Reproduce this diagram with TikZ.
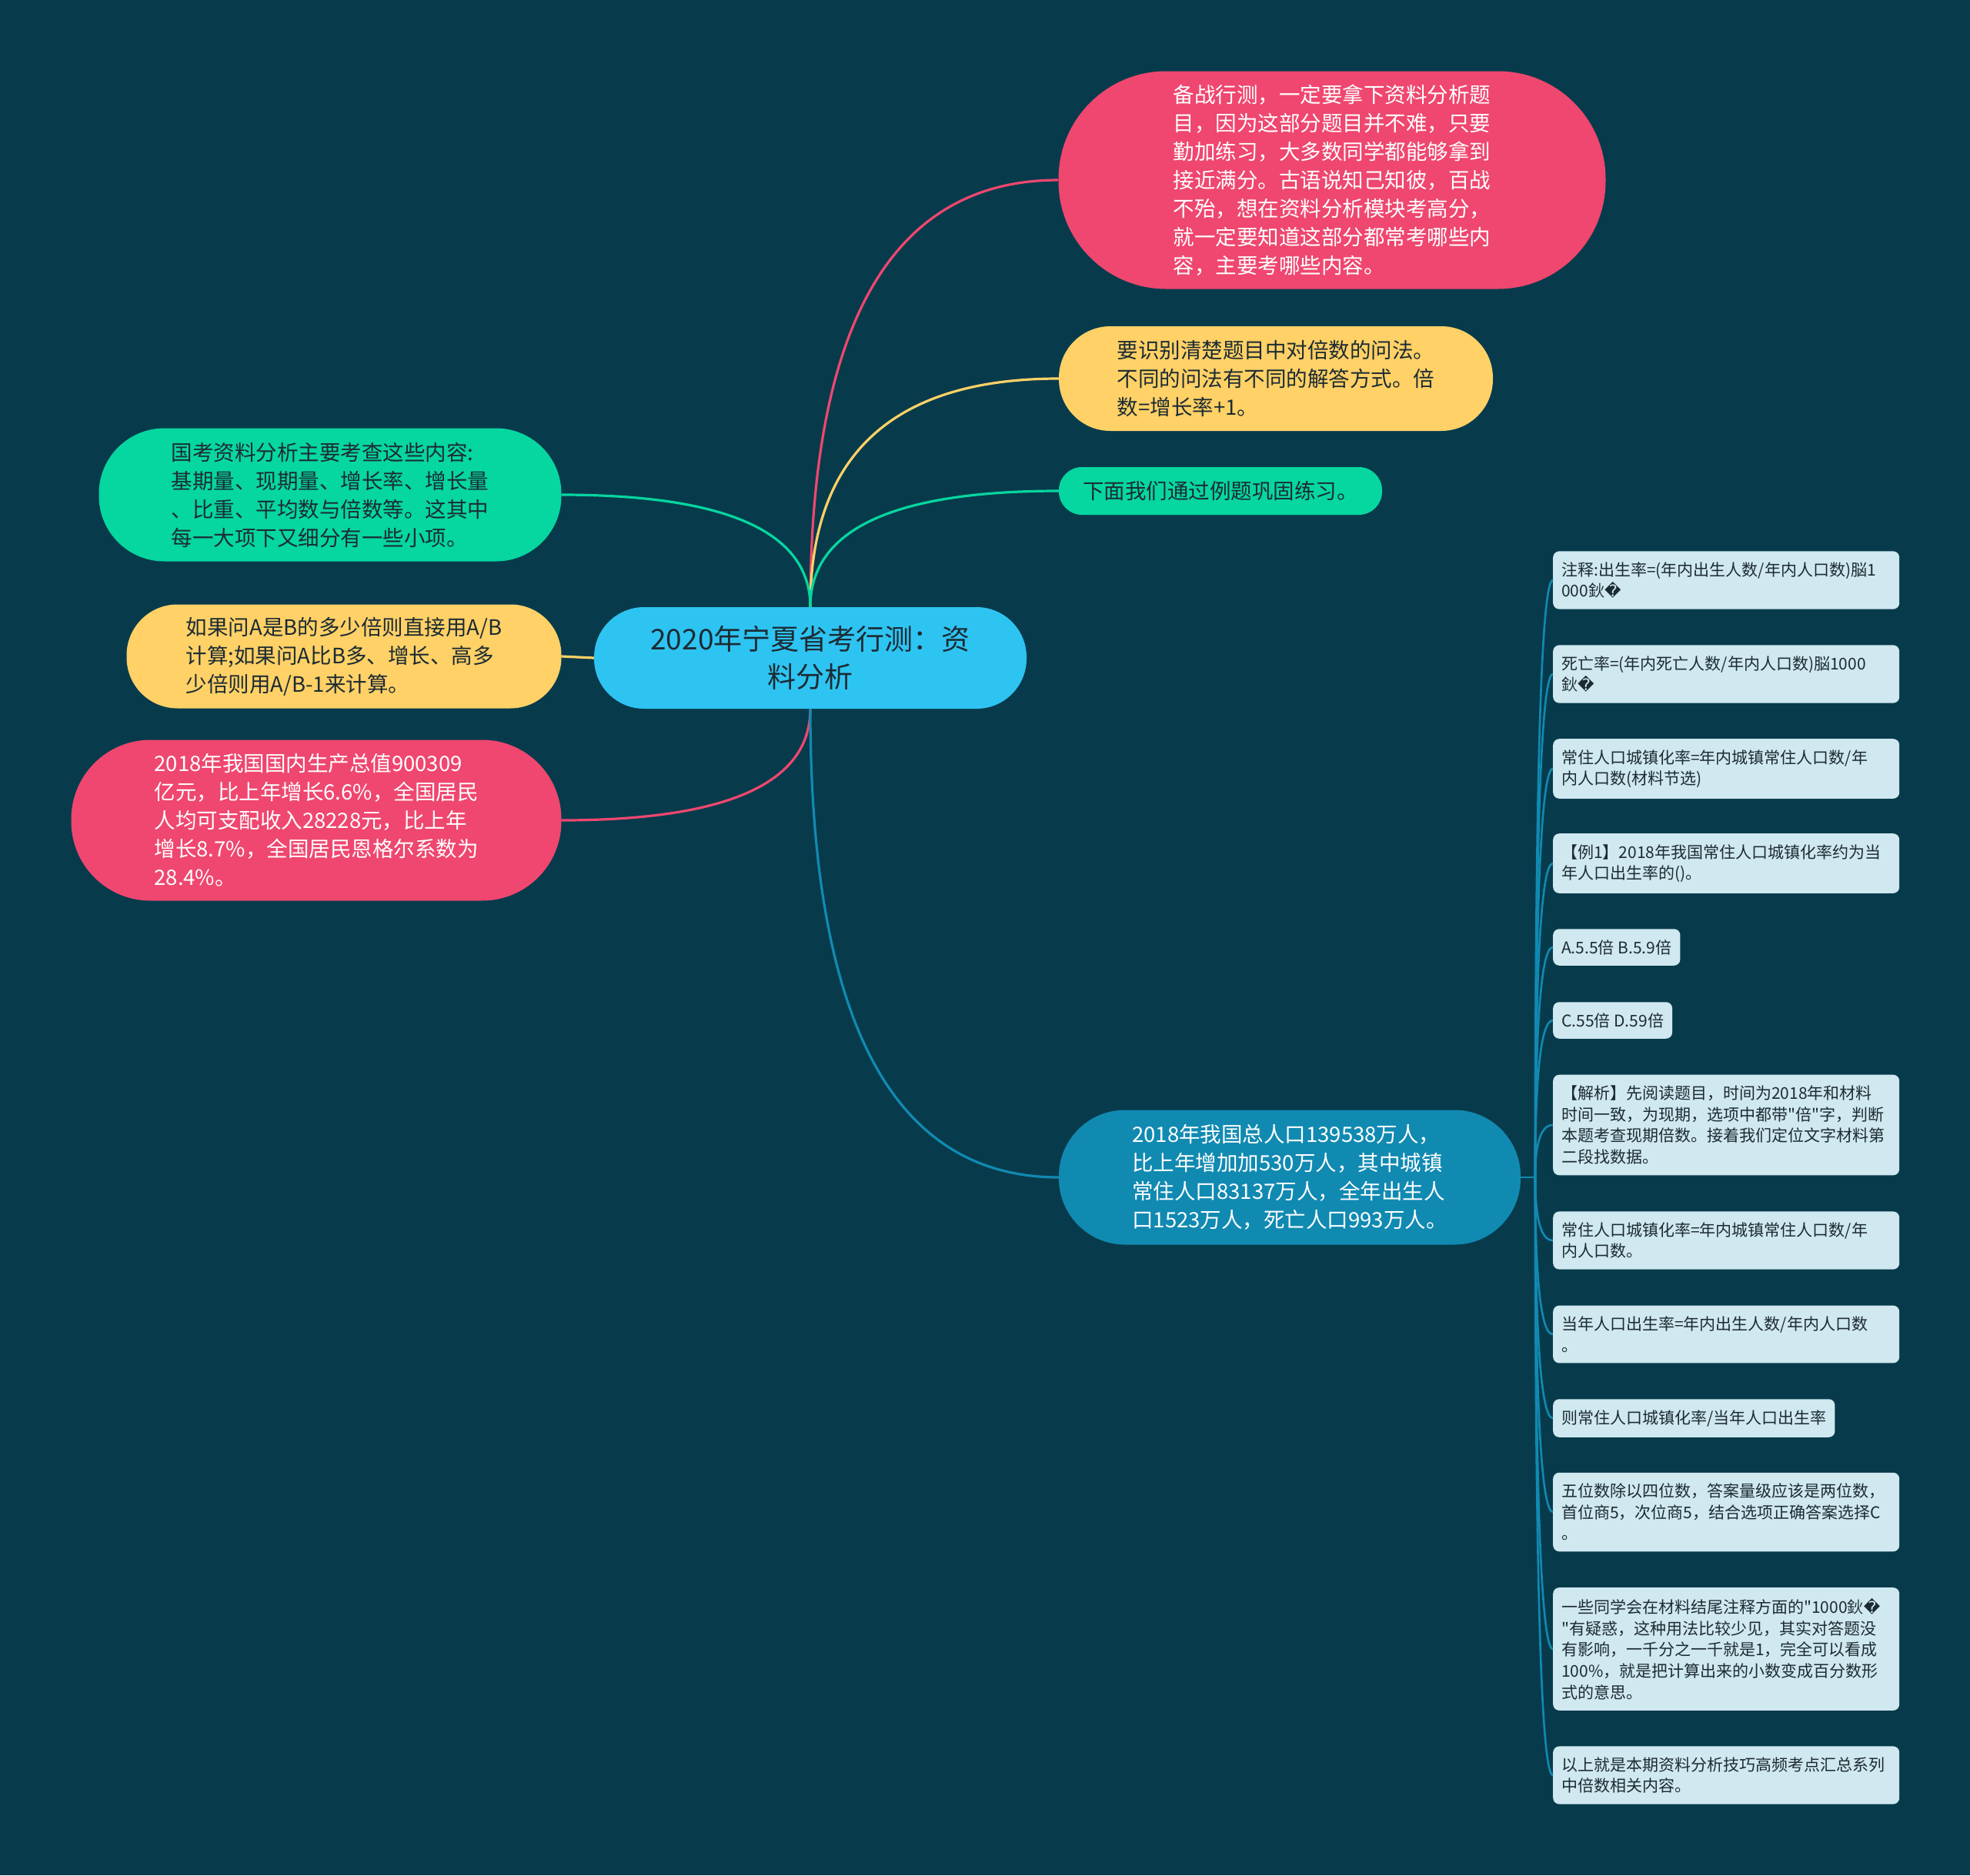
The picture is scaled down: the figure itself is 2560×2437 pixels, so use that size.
\documentclass[tikz,border=0pt]{standalone}
\usepackage{fontspec}
\setmainfont{Noto Sans CJK SC}[Ligatures=TeXOff]
\newfontfamily\repfont{DejaVu Sans}
\usetikzlibrary{calc}
\definecolor{bgc}{HTML}{073B4C}
\definecolor{rosec}{HTML}{EF476F}
\definecolor{sunc}{HTML}{FFD166}
\definecolor{mintc}{HTML}{06D6A0}
\definecolor{seac}{HTML}{118AB2}
\definecolor{skyc}{HTML}{2EC4F2}
\definecolor{leafc}{HTML}{D0E8F0}
\definecolor{inkc}{HTML}{1C2B33}

% curved mind-map branch: leaves #2 vertically, enters #3 horizontally
\newcommand{\curvelink}[3]{%
  \draw[#1] (#2) .. controls ($(#2)!0.667!(#2 |- #3)$) and ($(#3)!0.667!(#2 |- #3)$) .. (#3);}
\newcommand{\dq}{\char34\relax}

\begin{document}
\begin{tikzpicture}[x=1pt, y=-1pt,
  bubble/.style={rectangle, fill=#1, align=left, inner sep=0pt, font=\fontsize{27.5pt}{37pt}\selectfont},
  leaf/.style={rectangle, rounded corners=8pt, fill=leafc, text=inkc, anchor=west, align=left,
    inner xsep=11pt, inner ysep=14pt, font=\fontsize{21pt}{27.7pt}\selectfont},
  wide/.style={text width=428pt},
  link/.style={line width=3.2pt, draw=#1},
  twig/.style={line width=2.6pt, draw=seac}
]
  \fill[bgc] (0,0) rectangle (2560,2437);
  \useasboundingbox (0,0) rectangle (2560,2437);

  % centre
  \node[bubble=skyc, text=inkc, align=center, minimum width=562pt, minimum height=132pt, rounded corners=65pt,
    font=\fontsize{37pt}{49pt}\selectfont] (c) at (1053,855) {2020年宁夏省考行测：资\\料分析};

  % right branches
  \node[bubble=rosec, text=white, minimum width=711pt, minimum height=283pt, rounded corners=140pt] (n1) at (1731,234) {备战行测，一定要拿下资料分析题\\目，因为这部分题目并不难，只要\\勤加练习，大多数同学都能够拿到\\接近满分。古语说知己知彼，百战\\不殆，想在资料分析模块考高分，\\就一定要知道这部分都常考哪些内\\容，主要考哪些内容。};
  \node[bubble=sunc, text=inkc, minimum width=564pt, minimum height=136pt, rounded corners=67pt] (n2) at (1658,492) {要识别清楚题目中对倍数的问法。\\不同的问法有不同的解答方式。倍\\数=增长率+1。};
  \node[bubble=mintc, text=inkc, minimum width=420pt, minimum height=62pt, rounded corners=30pt] (n3) at (1586,638) {下面我们通过例题巩固练习。};
  \node[bubble=seac, text=white, minimum width=600pt, minimum height=175pt, rounded corners=86pt] (n7) at (1676,1530) {2018年我国总人口139538万人，\\比上年增加加530万人，其中城镇\\常住人口83137万人，全年出生人\\口1523万人，死亡人口993万人。};

  % left branches
  \node[bubble=mintc, text=inkc, minimum width=601pt, minimum height=173pt, rounded corners=85pt] (n4) at (429,643) {国考资料分析主要考查这些内容:\\基期量、现期量、增长率、增长量\\、比重、平均数与倍数等。这其中\\每一大项下又细分有一些小项。};
  \node[bubble=sunc, text=inkc, minimum width=565pt, minimum height=135pt, rounded corners=66pt] (n5) at (447,853) {如果问A是B的多少倍则直接用A/B\\计算;如果问A比B多、增长、高多\\少倍则用A/B-1来计算。};
  \node[bubble=rosec, text=white, minimum width=637pt, minimum height=209pt, rounded corners=103pt] (n6) at (411,1066) {2018年我国国内生产总值900309\\亿元，比上年增长6.6\%，全国居民\\人均可支配收入28228元，比上年\\增长8.7\%，全国居民恩格尔系数为\\28.4\%。};

  % leaves of n7
  \node[leaf, wide] (l1) at (2018,754) {注释:出生率=(年内出生人数/年内人口数)脳1\\000鈥{\repfont �}};
  \node[leaf, wide] (l2) at (2018,876) {死亡率=(年内死亡人数/年内人口数)脳1000\\鈥{\repfont �}};
  \node[leaf, wide] (l3) at (2018,999) {常住人口城镇化率=年内城镇常住人口数/年\\内人口数(材料节选)};
  \node[leaf, wide] (l4) at (2018,1122) {【例1】2018年我国常住人口城镇化率约为当\\年人口出生率的()。};
  \node[leaf] (l5) at (2018,1231) {A.5.5倍 B.5.9倍};
  \node[leaf] (l6) at (2018,1326) {C.55倍 D.59倍};
  \node[leaf, wide] (l7) at (2018,1462) {【解析】先阅读题目，时间为2018年和材料\\时间一致，为现期，选项中都带\dq 倍\dq 字，判断\\本题考查现期倍数。接着我们定位文字材料第\\二段找数据。};
  \node[leaf, wide] (l8) at (2018,1612) {常住人口城镇化率=年内城镇常住人口数/年\\内人口数。};
  \node[leaf, wide] (l9) at (2018,1734) {当年人口出生率=年内出生人数/年内人口数\\。};
  \node[leaf] (l10) at (2018,1843) {则常住人口城镇化率/当年人口出生率};
  \node[leaf, wide] (l11) at (2018,1965) {五位数除以四位数，答案量级应该是两位数，\\首位商5，次位商5，结合选项正确答案选择C\\。};
  \node[leaf, wide] (l12) at (2018,2143) {一些同学会在材料结尾注释方面的\dq 1000鈥{\repfont �}\\\dq 有疑惑，这种用法比较少见，其实对答题没\\有影响，一千分之一千就是1，完全可以看成\\100\%，就是把计算出来的小数变成百分数形\\式的意思。};
  \node[leaf, wide] (l13) at (2018,2307) {以上就是本期资料分析技巧高频考点汇总系列\\中倍数相关内容。};

  % branches
  \curvelink{link=rosec}{c.north}{n1.west}
  \curvelink{link=sunc}{c.north}{n2.west}
  \curvelink{link=mintc}{c.north}{n3.west}
  \curvelink{link=mintc}{c.north}{n4.east}
  \draw[link=sunc] (c.west) -- (n5.east);
  \curvelink{link=rosec}{c.south}{n6.east}
  \curvelink{link=seac}{c.south}{n7.west}

  \coordinate (hub) at (1995,1530);
  \draw[twig] (n7.east) -- (hub);
  \foreach \k in {1,...,13} {\curvelink{twig}{hub}{l\k.west}}
\end{tikzpicture}
\end{document}
